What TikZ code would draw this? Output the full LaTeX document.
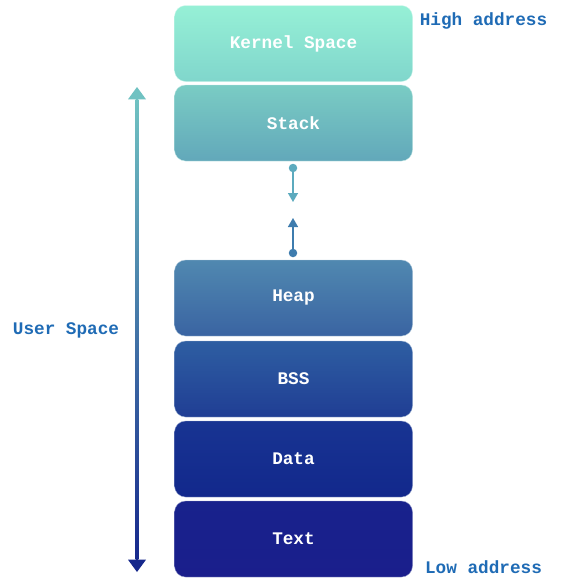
\documentclass[tikz,border=0pt]{standalone}
\usepackage{fontspec}
\newfontfamily\cour{Liberation Mono}
\usetikzlibrary{arrows.meta}
\definecolor{lbl}{HTML}{1F6BB5}
\definecolor{kT}{RGB}{150,240,214}\definecolor{kB}{RGB}{128,214,204}
\definecolor{sT}{RGB}{122,204,196}\definecolor{sB}{RGB}{98,168,186}
\definecolor{hT}{RGB}{80,136,176}\definecolor{hB}{RGB}{58,100,162}
\definecolor{bT}{RGB}{46,94,162}\definecolor{bB}{RGB}{32,62,148}
\definecolor{dT}{RGB}{24,52,146}\definecolor{dB}{RGB}{18,40,140}
\definecolor{tT}{RGB}{24,34,140}\definecolor{tB}{RGB}{26,30,140}
\definecolor{arT}{RGB}{112,194,194}\definecolor{arB}{RGB}{22,40,140}
\definecolor{up}{RGB}{92,170,190}\definecolor{dn}{RGB}{62,124,174}
\begin{document}
\begin{tikzpicture}[x=1pt,y=-1pt,
  seg/.style 2 args={rounded corners=11pt, minimum width=238pt, minimum height=76pt, inner sep=0pt,
    font=\cour\bfseries\fontsize{17.7}{20}\selectfont, text=white, draw=white!55!#1, line width=0.4pt,
    top color=#1, bottom color=#2},
  side/.style={font=\cour\bfseries\fontsize{17.7}{20}\selectfont, text=lbl, inner sep=0pt},
  dot/.style={circle, fill=#1, minimum size=8.5pt, inner sep=0pt},
  sarrow/.style={draw=#1, line width=1.4pt, -{Triangle[width=10pt,length=9pt]}}
]
\useasboundingbox (0,0) rectangle (561,582);
\node[seg={kT}{kB}] (kernel) at (293.5,43.5) {Kernel Space};
\node[seg={sT}{sB}] (stack) at (293.5,123) {Stack};
\node[seg={hT}{hB}] (heap) at (293.5,298) {Heap};
\node[seg={bT}{bB}] (bss) at (293.5,379) {BSS};
\node[seg={dT}{dB}] (data) at (293.5,459) {Data};
\node[seg={tT}{tB}] (text) at (293.5,539) {Text};

\node[side] (high) at (483.5,21) {High address};
\node[side] (low) at (483.5,567) {Low address};
\node[side] (user) at (66,330) {User Space};

% big arrow
\node[inner sep=0pt, minimum width=2.6pt, minimum height=460pt,
  top color=arT, bottom color=arB] (shaft) at (137,329.5) {};
\coordinate (toptip) at (137,87);
\coordinate (bottip) at (137,572);
\fill[arT] (toptip) -- ([xshift=-9pt]shaft.north) -- ([xshift=9pt]shaft.north) -- cycle;
\fill[arB] (bottip) -- ([xshift=-9pt]shaft.south) -- ([xshift=9pt]shaft.south) -- cycle;

% small arrows
\node[dot=up] (d1) at (293,168) {};
\coordinate (t1) at (293,202);
\draw[sarrow=up] (d1.center) -- (t1);
\node[dot=dn] (d2) at (293,253) {};
\coordinate (t2) at (293,218);
\draw[sarrow=dn] (d2.center) -- (t2);
\end{tikzpicture}
\end{document}
